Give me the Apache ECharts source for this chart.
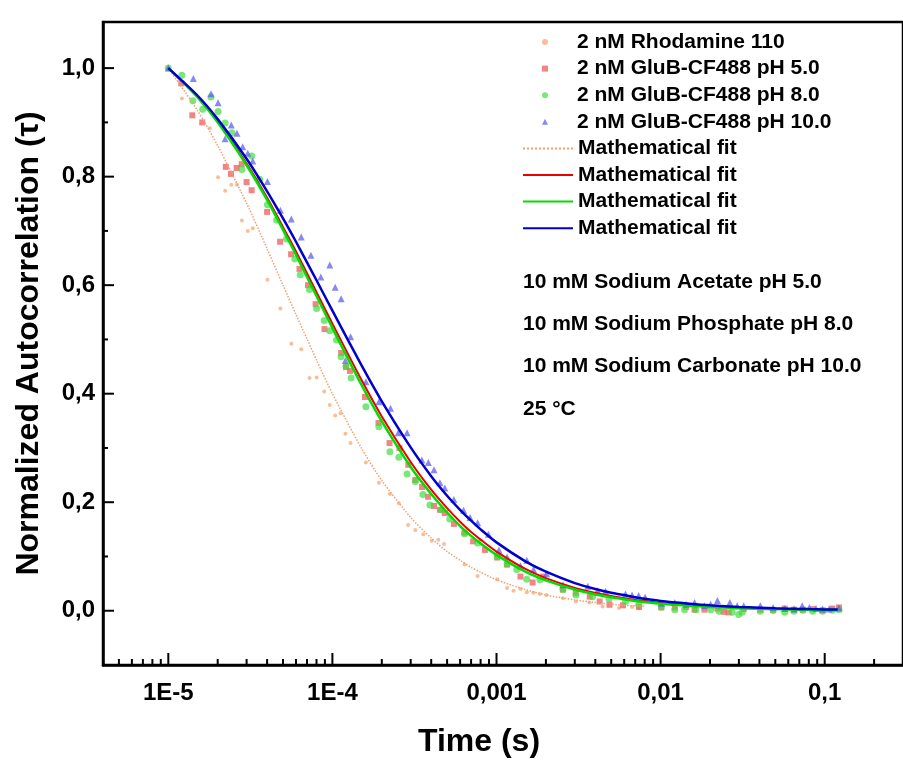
<!DOCTYPE html>
<html><head><meta charset="utf-8">
<script src="https://cdn.jsdelivr.net/npm/echarts@6/dist/echarts.min.js"></script>
<style>html,body{margin:0;padding:0;background:#fff}#c{width:903px;height:760px}</style>
</head><body><div id="c"></div>
<script>
const FONT = '"Liberation Sans", Arial, sans-serif';
const seriesNames = ['2 nM Rhodamine 110', '2 nM GluB-CF488 pH 5.0', '2 nM GluB-CF488 pH 8.0', '2 nM GluB-CF488 pH 10.0'];
const fitNames = ['fit1', 'fit2', 'fit3', 'fit4'];
const fitLabel = 'Mathematical fit';
const xTitle = 'Time (s)';
const yTitle = 'Normalized Autocorrelation (τ)';
const notes = ['10 mM Sodium Acetate pH 5.0', '10 mM Sodium Phosphate pH 8.0', '10 mM Sodium Carbonate pH 10.0', '25 °C'];
const xTickLabels = {'-5': '1E-5', '-4': '1E-4', '-3': '0,001', '-2': '0,01', '-1': '0,1'};
const xMajorTicks = [1e-5, 1e-4, 1e-3, 1e-2, 1e-1];
const yMajorTicks = [0, 0.2, 0.4, 0.6, 0.8, 1.0];
const yMinorTicks = [0.1, 0.3, 0.5, 0.7, 0.9];

const fitTimes = [1e-5,1.5e-5,2e-5,3e-5,4e-5,5e-5,6e-5,7e-5,8e-5,1e-4,1.5e-4,2e-4,3e-4,4e-4,5e-4,6e-4,7e-4,8e-4,1e-3,1.5e-3,2e-3,3e-3,4e-3,5e-3,6e-3,7e-3,8e-3,1e-2,1.5e-2,2e-2,3e-2,4e-2,5e-2,6e-2,7e-2,8e-2,0.1,0.12];
const fitRhodamine = [1.000,.923,.857,.751,.667,.600,.546,.501,.462,.400,.300,.240,.172,.134,.109,.093,.080,.071,.057,.039,.029,.020,.015,.012,.010,.009,.008];
const fitPH5 = [1.000,.948,.902,.824,.761,.707,.662,.622,.587,.529,.426,.358,.274,.223,.189,.164,.145,.131,.109,.077,.060,.042,.033,.027,.023,.020,.018,.014,.010,.008,.0054,.0041,.0034,.0028,.0025,.0022,.0018,.0015];
const fitPH8 = [1.000,.947,.900,.821,.757,.702,.656,.615,.580,.521,.417,.349,.265,.215,.181,.156,.138,.124,.103,.072,.056,.039,.030,.025,.021,.018,.016,.013,.009,.007,.0048,.0036,.0030,.0025,.0022,.0019,.0016,.0013];
const fitPH10 = [1.000,.950,.906,.833,.773,.723,.680,.642,.609,.553,.453,.386,.301,.248,.212,.186,.166,.150,.126,.091,.072,.051,.040,.033,.029,.025,.022,.018,.013,.010,.007,.0055,.0045,.0038,.0034,.0030,.0025,.0021];

const rhoTimes = [1.21e-5,1.79e-5,2.01e-5,2.22e-5,2.42e-5,2.62e-5,2.81e-5,3.05e-5,3.27e-5,4.02e-5,4.82e-5,5.62e-5,6.46e-5,7.25e-5,8.02e-5,8.91e-5,9.64e-5,1.04e-4,1.12e-4,1.20e-4,1.29e-4,1.60e-4,1.92e-4,2.24e-4,2.54e-4,2.89e-4,3.20e-4,3.58e-4,4.03e-4,4.42e-4,4.79e-4,6.38e-4,7.67e-4,1.01e-3,1.16e-3,1.27e-3,1.40e-3,1.53e-3,1.68e-3,1.84e-3,2.02e-3,2.54e-3,3.05e-3,3.68e-3,4.43e-3,5.57e-3,6.70e-3,7.35e-3];
const rhoValues = [.944,.889,.799,.774,.785,.785,.719,.700,.705,.610,.557,.492,.482,.429,.430,.404,.379,.360,.364,.326,.309,.273,.236,.215,.198,.158,.149,.141,.129,.131,.123,.085,.064,.058,.042,.037,.040,.034,.033,.031,.029,.023,.017,.015,.008,.005,.007,.005];

const ph5Times = [1.20e-5,1.40e-5,1.61e-5,2.24e-5,2.41e-5,2.61e-5,2.80e-5,3.00e-5,3.22e-5,4.00e-5,4.80e-5,5.60e-5,6.30e-5,7.10e-5,7.90e-5,8.95e-5,1.13e-4,1.21e-4,1.28e-4,1.58e-4,1.91e-4,2.23e-4,2.56e-4,2.90e-4,3.20e-4,3.52e-4,3.83e-4,4.16e-4,4.52e-4,4.84e-4,5.50e-4,6.38e-4,7.20e-4,8.50e-4,1.01e-3,1.16e-3,1.40e-3,1.66e-3,1.93e-3,2.54e-3,3.04e-3,3.70e-3,4.25e-3,4.88e-3,5.90e-3,7.38e-3,1.01e-2,1.22e-2,1.43e-2,1.61e-2,1.85e-2,2.22e-2,2.42e-2,2.60e-2,3.21e-2,4.05e-2,4.85e-2,5.71e-2,6.50e-2,7.36e-2,8.45e-2,9.70e-2,0.1114,0.1222];
const ph5Values = [.972,.913,.900,.818,.805,.816,.823,.790,.775,.735,.680,.657,.630,.600,.565,.519,.475,.449,.442,.394,.346,.309,.300,.269,.241,.228,.210,.193,.186,.180,.160,.144,.128,.112,.098,.085,.063,.052,.063,.039,.033,.026,.017,.011,.010,.007,.006,.006,.007,.002,.002,.004,-.002,-.003,.003,.002,.001,.004,.002,.002,.003,.001,.004,.006];

const ph8Times = [1.00e-5,1.21e-5,1.41e-5,1.62e-5,1.82e-5,2.01e-5,2.22e-5,2.44e-5,2.81e-5,3.22e-5,3.60e-5,4.02e-5,4.57e-5,5.25e-5,5.90e-5,6.37e-5,7.25e-5,8.02e-5,8.91e-5,9.64e-5,1.06e-4,1.13e-4,1.21e-4,1.30e-4,1.60e-4,1.92e-4,2.24e-4,2.54e-4,2.85e-4,3.20e-4,3.56e-4,3.93e-4,4.62e-4,5.19e-4,6.38e-4,7.67e-4,1.01e-3,1.16e-3,1.33e-3,1.53e-3,1.84e-3,2.54e-3,3.05e-3,3.85e-3,4.85e-3,6.11e-3,7.35e-3,1.01e-2,1.22e-2,1.40e-2,1.64e-2,2.02e-2,2.27e-2,2.73e-2,2.99e-2,3.14e-2,4.05e-2,4.85e-2,5.71e-2,6.50e-2,7.36e-2,8.45e-2,9.70e-2,0.1114,0.1222];
const ph8Values = [1.000,.987,.940,.924,.947,.920,.899,.881,.813,.838,.795,.748,.720,.685,.648,.619,.592,.557,.535,.516,.499,.468,.450,.429,.376,.339,.293,.283,.252,.238,.214,.195,.186,.169,.142,.125,.100,.086,.076,.058,.057,.039,.029,.026,.022,.017,.011,.007,.002,.002,.002,.002,-.001,-.003,-.007,-.003,-.001,.001,-.003,-.001,.001,-.001,-.001,.001,.002];

const ph10Times = [1.00e-5,1.42e-5,1.82e-5,2.01e-5,2.22e-5,2.42e-5,2.62e-5,2.84e-5,3.05e-5,3.27e-5,4.02e-5,4.82e-5,5.62e-5,6.46e-5,7.40e-5,8.50e-5,9.64e-5,1.04e-4,1.13e-4,1.20e-4,1.29e-4,1.60e-4,1.92e-4,2.26e-4,2.52e-4,2.85e-4,3.51e-4,3.84e-4,4.16e-4,4.52e-4,4.84e-4,5.50e-4,6.30e-4,6.90e-4,7.67e-4,8.93e-4,1.035e-3,1.16e-3,1.40e-3,1.53e-3,1.68e-3,2.02e-3,2.54e-3,3.60e-3,4.13e-3,4.62e-3,6.11e-3,6.70e-3,7.35e-3,8.05e-3,1.01e-2,1.22e-2,1.43e-2,1.61e-2,1.85e-2,2.02e-2,2.22e-2,2.64e-2,2.93e-2,3.21e-2,4.05e-2,4.85e-2,5.71e-2,6.50e-2,7.29e-2,8.07e-2,8.85e-2,9.70e-2,0.1064,0.1222];
const ph10Values = [1.000,.981,.953,.936,.870,.895,.880,.855,.843,.829,.791,.738,.722,.689,.655,.615,.637,.596,.575,.461,.505,.422,.385,.373,.328,.328,.278,.273,.260,.236,.226,.205,.185,.172,.162,.141,.112,.099,.083,.093,.076,.068,.048,.045,.037,.036,.031,.029,.028,.025,.014,.015,.012,.015,.009,.012,.019,.015,.009,.009,.009,.006,.004,.003,.009,.006,.004,.003,.003,.005];

const X_MIN = 4e-6, X_MAX = 0.3, Y_MIN = -0.1, Y_MAX = 1.085;
const xMinorTicks = [];
[1e-6].concat(xMajorTicks).forEach(d => { for (let m = 2; m <= 9; m++) { const v = d * m; if (v >= X_MIN * 0.999 && v <= X_MAX * 1.001) xMinorTicks.push(v); } });

const zip = (a, b) => a.map((t, i) => [t, b[i]]);

function tickSeries(data, kind, len) {
  return {
    type: 'custom', silent: true, z: 10, clip: false,
    data: data.map(v => kind === 'x' ? [v, Y_MIN] : [X_MIN, v]),
    renderItem: (params, api) => {
      const p = api.coord([api.value(0), api.value(1)]);
      const shape = kind === 'x'
        ? {x1: p[0], y1: p[1], x2: p[0], y2: p[1] - len}
        : {x1: p[0], y1: p[1], x2: p[0] + len, y2: p[1]};
      return {type: 'line', shape, style: {stroke: '#000', lineWidth: 2}};
    }
  };
}

function scatter(name, times, values, symbol, size, color, opacity) {
  return {name, type: 'scatter', data: zip(times, values), symbol, symbolSize: size,
    itemStyle: {color, opacity}, z: 2};
}
function fit(name, values, color, width, type) {
  return {name, type: 'line', data: zip(fitTimes, values), symbol: 'none', showSymbol: false,
    smooth: 0.25, lineStyle: {color, width, type}, itemStyle: {color}, z: 3};
}

const textBold = {fontFamily: FONT, fontWeight: 'bold', color: '#000'};

const chart = echarts.init(document.getElementById('c'), null, {renderer: 'canvas'});
chart.setOption({
  animation: false,
  backgroundColor: '#fff',
  grid: {left: 103, top: 22, width: 812, height: 643, show: true, borderColor: '#000', borderWidth: 2.5, backgroundColor: 'transparent'},
  xAxis: {
    type: 'log', logBase: 10, min: X_MIN, max: X_MAX,
    axisLine: {show: true, onZero: false, lineStyle: {color: '#000', width: 2.5}},
    axisTick: {show: false}, splitLine: {show: false}, minorTick: {show: false},
    axisLabel: Object.assign({}, textBold, {
      margin: 16, fontSize: 24, showMinLabel: false, showMaxLabel: false,
      formatter: v => { const e = Math.log10(v); const r = Math.round(e); return Math.abs(e - r) < 0.01 && xTickLabels[String(r)] ? xTickLabels[String(r)] : ''; }
    })
  },
  yAxis: {
    type: 'value', min: Y_MIN, max: Y_MAX, interval: 0.1,
    name: yTitle, nameLocation: 'middle', nameGap: 58, nameRotate: 90,
    nameTextStyle: Object.assign({}, textBold, {fontSize: 32}),
    axisLine: {show: true, onZero: false, lineStyle: {color: '#000', width: 2.5}},
    axisTick: {show: false}, splitLine: {show: false},
    axisLabel: Object.assign({}, textBold, {
      margin: 8, fontSize: 24,
      formatter: v => { const k = Math.round(v * 10); if (Math.abs(v * 10 - k) > 1e-6 || k < 0 || k % 2) return ''; return (k / 10).toFixed(1).replace('.', ','); }
    })
  },
  legend: [
    {
      orient: 'vertical', left: 542, top: 31, padding: 0, itemWidth: 6, itemHeight: 6, itemGap: 4.6,
      selectedMode: false, data: seriesNames,
      textStyle: Object.assign({}, textBold, {fontSize: 21, lineHeight: 22, padding: [0, 0, 0, 24]})
    },
    {
      orient: 'vertical', left: 522, top: 31 + 4 * 26.6, padding: 0, itemWidth: 50, itemHeight: 8, itemGap: 4.6,
      selectedMode: false,
      data: fitNames.map(n => ({name: n, itemStyle: {opacity: 0}})),
      formatter: () => fitLabel,
      textStyle: Object.assign({}, textBold, {fontSize: 21, lineHeight: 22})
    }
  ],
  graphic: notes.map((t, i) => ({
    type: 'text', x: 523, y: [282, 324, 366, 409][i],
    style: {text: t, fontFamily: FONT, fontWeight: 'bold', fontSize: 21, fill: '#000', verticalAlign: 'middle'}
  })).concat([{
    type: 'text', x: 479, y: 742,
    style: {text: xTitle, fontFamily: FONT, fontWeight: 'bold', fontSize: 32, fill: '#000', align: 'center', verticalAlign: 'middle'}
  }]),
  series: [
    scatter(seriesNames[0], rhoTimes, rhoValues, 'circle', 4, '#f5a878', 0.75),
    scatter(seriesNames[1], ph5Times, ph5Values, 'rect', 6, '#ee5050', 0.7),
    scatter(seriesNames[2], ph8Times, ph8Values, 'circle', 7, '#40dd40', 0.7),
    scatter(seriesNames[3], ph10Times, ph10Values, 'triangle', 7, '#6060ee', 0.75),
    fit(fitNames[0], fitRhodamine, '#f0a070', 1.5, 'dotted'),
    fit(fitNames[1], fitPH5, '#ee0000', 2, 'solid'),
    fit(fitNames[2], fitPH8, '#00dd00', 2.5, 'solid'),
    fit(fitNames[3], fitPH10, '#0000cc', 2.5, 'solid'),
    tickSeries(xMajorTicks, 'x', 12),
    tickSeries(xMinorTicks, 'x', 6),
    tickSeries(yMajorTicks, 'y', 11),
    tickSeries(yMinorTicks, 'y', 5)
  ]
});
</script></body></html>
